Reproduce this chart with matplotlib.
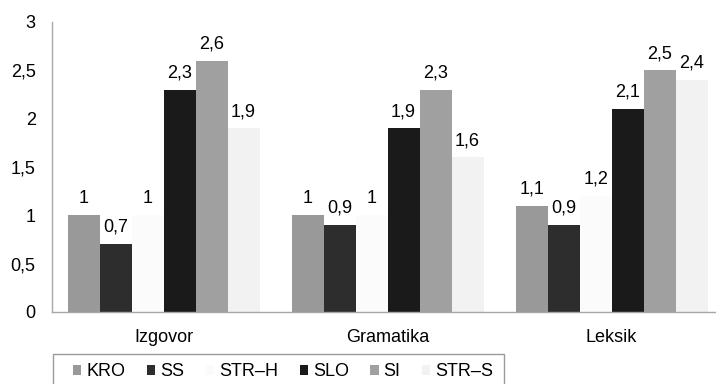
import matplotlib
matplotlib.use("Agg")
import matplotlib.pyplot as plt
from matplotlib.patches import Rectangle
import numpy as np

plt.rcParams['font.family'] = ['Liberation Sans', 'DejaVu Sans']

categories = ["Izgovor", "Gramatika", "Leksik"]
series = ["KRO", "SS", "STR–H", "SLO", "SI", "STR–S"]
kro = [1.0, 1.0, 1.1]
ss = [0.7, 0.9, 0.9]
str_h = [1.0, 1.0, 1.2]
slo = [2.3, 1.9, 2.1]
si = [2.6, 2.3, 2.5]
str_s = [1.9, 1.6, 2.4]
colors = ["#999999", "#2d2d2d", "#fbfbfb", "#1a1a1a", "#a0a0a0", "#f2f2f2"]

W, H = 716, 384
fig = plt.figure(figsize=(W / 100, H / 100), dpi=100)
# axes run slightly past the right edge, as in the original crop
ax = fig.add_axes([51.6 / W, 72 / H, 672 / W, 290 / H])

fs = 13
width = 1 / 7
x = np.arange(len(categories))
values = [kro, ss, str_h, slo, si, str_s]
handles = []
for i, (name, vals, col) in enumerate(zip(series, values, colors)):
    pos = x - 0.5 + width / 2 + width * (i + 0.5)
    bars = ax.bar(pos, vals, width, color=col, label=name, linewidth=0)
    handles.append(bars)
    for p, v in zip(pos, vals):
        ax.annotate(f"{v:g}".replace(".", ","), (p, v), xytext=(0, 6),
                    textcoords="offset points", ha="center", va="bottom",
                    fontsize=fs)

ax.set_xlim(-0.5, 2.5)
ax.set_ylim(0, 3)
ax.set_yticks(np.arange(0, 3.01, 0.5))
ax.set_yticklabels([f"{t:g}".replace(".", ",") for t in np.arange(0, 3.01, 0.5)],
                   fontsize=fs)
ax.set_xticks(x)
ax.set_xticklabels(categories, fontsize=fs)
ax.tick_params(axis="both", length=0)
ax.tick_params(axis="y", pad=11.5)
ax.tick_params(axis="x", pad=12.5)
for s in ("top", "right"):
    ax.spines[s].set_visible(False)
for s in ("left", "bottom"):
    ax.spines[s].set_color("#a8a8a8")
    ax.spines[s].set_linewidth(1.0)

# legend box (runs off the bottom of the image)
fig.patches.append(Rectangle((53 / W, -0.05), (504 - 53) / W, 0.05 + (384 - 354) / H,
                             transform=fig.transFigure, fill=False,
                             edgecolor="#9a9a9a", linewidth=1.0))
fig.legend(handles=handles, labels=series, ncol=6, fontsize=fs,
           loc="center left", bbox_to_anchor=(73 / W, 1 - 372 / H),
           frameon=False, handlelength=0.45, handleheight=0.45,
           handletextpad=0.28, columnspacing=1.2, borderpad=0, borderaxespad=0)

fig.savefig("out.png", dpi=100)
